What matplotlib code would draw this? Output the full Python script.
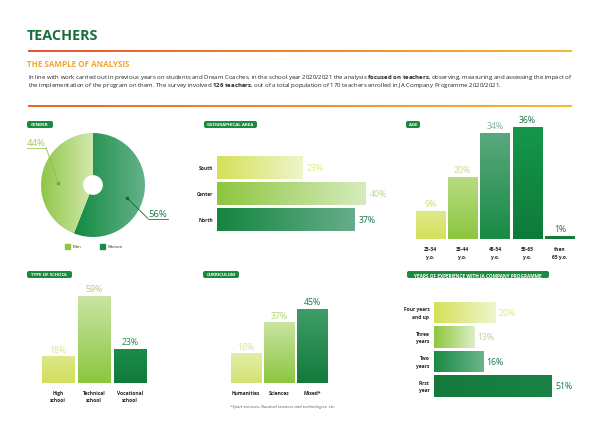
import numpy as np
import matplotlib
matplotlib.use('Agg')
import matplotlib.pyplot as plt
from matplotlib.colors import to_rgb
from matplotlib.patches import FancyBboxPatch, Rectangle
from matplotlib.lines import Line2D

W, H = 600, 427
plt.rcParams['font.family'] = ['Open Sans', 'DejaVu Sans']
plt.rcParams['mathtext.fontset'] = 'custom'
plt.rcParams['mathtext.rm'] = 'Open Sans'
plt.rcParams['mathtext.bf'] = 'Open Sans:bold'
plt.rcParams['mathtext.it'] = 'Open Sans:italic'

# ---------------- data ----------------
gender_labels = ['Woman', 'Man']
gender_values = [56, 44]
area_labels = ['South', 'Center', 'North']
area_values = [23, 40, 37]
age_labels = ['25-34\ny.o.', '35-44\ny.o.', '45-54\ny.o.', '55-65\ny.o.', 'than\n65 y.o.']
age_values = [9, 20, 34, 36, 1]
school_labels = ['High\nschool', 'Technical\nschool', 'Vocational\nschool']
school_values = [18, 59, 23]
curr_labels = ['Humanities', 'Sciences', 'Mixed*']
curr_values = [18, 37, 45]
exp_labels = ['Four years\nand up', 'Three\nyears', 'Two\nyears', 'First\nyear']
exp_values = [20, 13, 16, 51]

DARK = '#1a7a45'
fig = plt.figure(figsize=(6, 4.27), dpi=100)
fig.patch.set_facecolor('white')


def px_axes(x0, y0, x1, y1):
    ax = fig.add_axes([x0 / W, 1 - y1 / H, (x1 - x0) / W, (y1 - y0) / H])
    ax.set_axis_off()
    return ax


def ftext(x, y, s, **kw):
    return fig.text(x / W, 1 - y / H, s, **kw)


def gradient_img(c1, c2, horizontal, n=128):
    a = np.array(to_rgb(c1)); b = np.array(to_rgb(c2))
    t = np.linspace(0, 1, n)
    g = a[None, :] * (1 - t[:, None]) + b[None, :] * t[:, None]
    return g[None, :, :] if horizontal else g[:, None, :]


def grad_fill(ax, patch, c1, c2, horizontal, extent=None, xmax=None):
    if extent is None:
        x0, y0 = patch.get_x(), patch.get_y()
        w, h = patch.get_width(), patch.get_height()
        x1 = x0 + w if xmax is None else min(x0 + w, xmax)
        extent = [x0, x1, y0, y0 + h]
    im = ax.imshow(gradient_img(c1, c2, horizontal), extent=extent, aspect='auto',
                   origin='upper', zorder=2, interpolation='bilinear')
    im.set_clip_path(patch)
    patch.set_facecolor('none')
    patch.set_edgecolor('none')


def hline_grad(x0, x1, y, c1, c2, th=2.2):
    ax = px_axes(x0, y - th / 2, x1, y + th / 2)
    ax.imshow(gradient_img(c1, c2, True), extent=[0, 1, 0, 1], aspect='auto',
              interpolation='bilinear')
    ax.set_xlim(0, 1); ax.set_ylim(0, 1)


def badge(x0, x1, y0, y1, s, fs=3.2):
    w, h = x1 - x0, y1 - y0
    ax = px_axes(x0, y0, x1, y1)
    ax.set_xlim(0, w); ax.set_ylim(0, h)
    p = FancyBboxPatch((0, 0), w, h, boxstyle='round,pad=0,rounding_size=2',
                       facecolor='#1b8a3e', edgecolor='none', clip_on=False)
    ax.add_patch(p)
    ax.text(w / 2, h / 2, s, ha='center', va='center', color='white', fontsize=fs,
            fontweight='bold')


# ---------------- header ----------------
ftext(27, 36.5, 'TEACHERS', fontsize=10.4, fontweight='bold', color='#17703a',
      va='center', ha='left')
hline_grad(28, 572, 52, '#e4572e', '#f7b733')
ftext(27, 64.5, 'THE SAMPLE OF ANALYSIS', fontsize=5.8, fontweight='bold',
      color='#f5a623', va='center', ha='left')
hline_grad(28, 572, 107, '#e8652a', '#f7b733')


def mt(s):
    return s.replace(' ', r'\ ')


body1 = ("In line with work carried out in previous years on students and Dream Coaches, "
         "in the school year 2020/2021 the analysis $\\mathbf{" + mt("focused on teachers")
         + "}$, observing, measuring and assessing the impact of")
body2 = ("the implementation of the program on them. The survey involved $\\mathbf{"
         + mt("126 teachers") + "}$, out of a total population of 170 teachers enrolled "
         "in JA Company Programme 2020/2021.")

renderer = fig.canvas.get_renderer()
t1 = ftext(28, 77, body1, fontsize=5.0, color='#222222', va='center', ha='left')
w1 = t1.get_window_extent(renderer).width
fs_body = 5.0 * 544 / w1
t1.set_fontsize(fs_body)
ftext(28, 86, body2, fontsize=fs_body, color='#222222', va='center', ha='left')

# ---------------- badges ----------------
badge(27, 53, 122, 129, 'GENDER')
badge(204, 257, 122, 129, 'GEOGRAPHICAL AREA')
badge(406, 420, 122, 129, 'AGE')
badge(27, 72, 272, 279, 'TYPE OF SCHOOL')
badge(203, 239, 272, 279, 'CURRICULUM')
badge(407, 549, 272, 279, 'YEARS OF EXPERIENCE WITH JA COMPANY PROGRAMME', fs=3.4)

LBL = dict(fontsize=3.5, fontweight='bold', color='#222222')
PCT = 6.3
PW = 'normal'

# ---------------- gender donut ----------------
ax = px_axes(41, 134, 145, 238)
wedges, _ = ax.pie(gender_values, startangle=90, counterclock=False, radius=1,
                   wedgeprops=dict(width=0.81, edgecolor='none'))
ax.set_aspect('equal')
g_cols = [('#138a40', '#66b38c'), ('#8fc64a', '#d3e9ad')]
for w_, (c1, c2) in zip(wedges, g_cols):
    ext = w_.get_path().get_extents()
    grad_fill(ax, w_, c1, c2, True, extent=[ext.x0, ext.x1, ext.y0, ext.y1])
ax.set_xlim(-1, 1); ax.set_ylim(-1, 1)


def pol(deg, r):
    return r * np.cos(np.radians(deg)), r * np.sin(np.radians(deg))


# woman label (56%)
th_w = 90 - gender_values[0] * 3.6 * 0.55
ax.plot(*pol(th_w, 0.7), 'o', ms=1.6, color='#0f6a35', zorder=5)
ax.annotate('', xy=pol(th_w, 0.7), xytext=(148, H - 219.5), textcoords='figure pixels',
            arrowprops=dict(arrowstyle='-', color='#0f6a35', lw=0.6,
                            shrinkA=0, shrinkB=0), zorder=5)
ftext(158, 214.5, f'{gender_values[0]}%', fontsize=6.8, color=DARK, ha='center',
      va='center', fontweight=PW)
fig.add_artist(Line2D([148 / W, 168 / W], [1 - 219.5 / H] * 2, color=DARK, lw=0.6))
# man label (44%)
th_m = 90 + gender_values[1] * 3.6 * 0.55
ax.plot(*pol(th_m, 0.67), 'o', ms=1.6, color='#6aa832', zorder=5)
ax.annotate('', xy=pol(th_m, 0.67), xytext=(46, H - 148.5), textcoords='figure pixels',
            arrowprops=dict(arrowstyle='-', color='#8cbf50', lw=0.6,
                            shrinkA=0, shrinkB=0), zorder=5)
ftext(36, 143.5, f'{gender_values[1]}%', fontsize=6.8, color='#9ccc5a', ha='center',
      va='center', fontweight=PW)
fig.add_artist(Line2D([27 / W, 46 / W], [1 - 148.5 / H] * 2, color='#9ccc5a', lw=0.6))

# legend
for xs, lab, col in [(65, 'Man', '#8dc63f'), (100, 'Woman', '#1a8a45')]:
    fig.add_artist(Rectangle((xs / W, 1 - 249.5 / H), 4.5 / W, 4.5 / H, color=col,
                             transform=fig.transFigure))
    ftext(xs + 8, 247.3, lab, fontsize=3.1, color='#333333', va='center', ha='left')

# ---------------- geographical area ----------------
ax = px_axes(217, 155.5, 366, 233.5)
bars = ax.barh(range(len(area_values)), area_values, height=0.88)
a_cols = [('#d4e157', '#eff5cc'), ('#8dc63f', '#d6ebbd'), ('#14853f', '#66ad8a')]
a_txt = ['#dde88a', '#b5d98a', DARK]
for b, (c1, c2) in zip(bars, a_cols):
    grad_fill(ax, b, c1, c2, True)
ax.set_xlim(0, 40); ax.set_ylim(2.5, -0.5)
for i, (v, lab) in enumerate(zip(area_values, area_labels)):
    ax.text(v + 1.0, i, f'{v}%', fontsize=PCT, color=a_txt[i], va='center', ha='left',
            fontweight=PW)
    ax.text(-1.0, i, lab, va='center', ha='right', **LBL)

# ---------------- age ----------------
ax = px_axes(414, 128, 576, 240)
bars = ax.bar(range(len(age_values)), age_values, width=0.9)
ag_cols = [('#e0e98a', '#d4e05c'), ('#b9dc82', '#8cc63f'), ('#5aa87e', '#1a8a45'),
           ('#16974a', '#0e7a3a'), ('#137a3c', '#137a3c')]
ag_txt = ['#d2e07a', '#bfdc8a', '#74b890', DARK, DARK]
for b, (c1, c2) in zip(bars, ag_cols):
    grad_fill(ax, b, c1, c2, False)
ax.set_xlim(-0.5, 4.5); ax.set_ylim(0, 36)
for i, (v, lab) in enumerate(zip(age_values, age_labels)):
    ax.text(i, v + 1.0, f'{v}%', fontsize=PCT, color=ag_txt[i], va='bottom', ha='center',
            fontweight=PW)
    ax.text(i, -2.2, lab, va='top', ha='center', linespacing=1.7, **LBL)

# ---------------- type of school ----------------
ax = px_axes(40, 297, 148, 384)
bars = ax.bar(range(len(school_values)), school_values, width=0.89)
s_cols = [('#dde787', '#d2df5e'), ('#c9e4a3', '#8cc63f'), ('#1a8c48', '#137a3c')]
s_txt = ['#d8e48a', '#a8d46a', '#1a8a45']
for b, (c1, c2) in zip(bars, s_cols):
    grad_fill(ax, b, c1, c2, False)
ax.set_xlim(-0.5, 2.5); ax.set_ylim(0, 59)
for i, (v, lab) in enumerate(zip(school_values, school_labels)):
    ax.text(i, v + 2.0, f'{v}%', fontsize=PCT, color=s_txt[i], va='bottom', ha='center',
            fontweight=PW)
    ax.text(i, -4.5, lab, va='top', ha='center', linespacing=1.7, **LBL)

# ---------------- curriculum ----------------
ax = px_axes(229.5, 310, 328.5, 384)
bars = ax.bar(range(len(curr_values)), curr_values, width=0.91)
c_cols = [('#e3eda8', '#d3e274'), ('#c9e4a3', '#8cc63f'), ('#3f9d68', '#137a3c')]
c_txt = ['#d8e68a', '#a8d46a', DARK]
for b, (c1, c2) in zip(bars, c_cols):
    grad_fill(ax, b, c1, c2, False)
ax.set_xlim(-0.5, 2.5); ax.set_ylim(0, 45)
for i, (v, lab) in enumerate(zip(curr_values, curr_labels)):
    ax.text(i, v + 1.6, f'{v}%', fontsize=PCT, color=c_txt[i], va='bottom', ha='center',
            fontweight=PW)
    ax.text(i, -4.0, lab, va='top', ha='center', **LBL)
ftext(230, 407, '*Sport sciences, Nautical sciences and technologies, etc.', fontsize=3.1,
      style='italic', color='#555555', va='center', ha='left')

# ---------------- years of experience ----------------
ax = px_axes(434, 301.25, 552, 399.25)
bars = ax.barh(range(len(exp_values)), exp_values, height=0.88)
e_cols = [('#d4e157', '#eff5cc'), ('#8dc63f', '#dcefc6'), ('#1a8a45', '#6ab58a'),
          ('#137a3c', '#1a8245')]
e_txt = ['#dde88a', '#b5d98a', DARK, DARK]
xmax = 38.3
for b, (c1, c2) in zip(bars, e_cols):
    grad_fill(ax, b, c1, c2, True, xmax=xmax)
ax.set_xlim(0, xmax); ax.set_ylim(3.5, -0.5)
for i, (v, lab) in enumerate(zip(exp_values, exp_labels)):
    ax.text(min(v, xmax) + 1.0, i, f'{v}%', fontsize=PCT, color=e_txt[i], va='center',
            ha='left', clip_on=False, zorder=6, fontweight=PW)
    ax.text(-1.5, i, lab, va='center', ha='right', linespacing=1.7, **LBL)

fig.savefig('out.png', dpi=100, facecolor='white')
